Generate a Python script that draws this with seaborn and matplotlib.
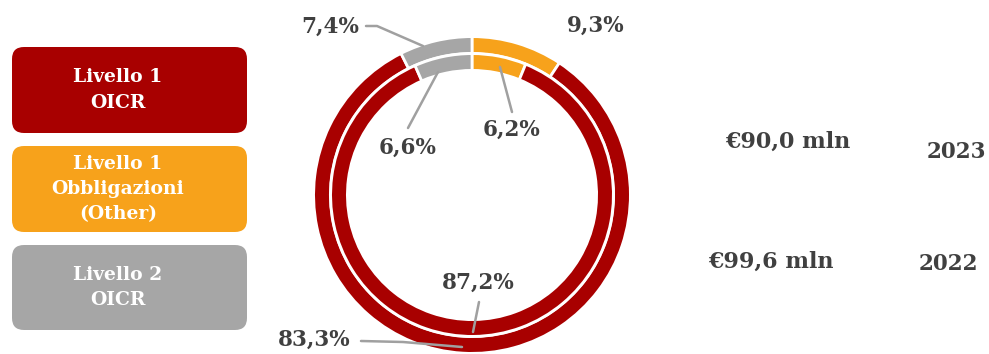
import matplotlib
matplotlib.use("Agg")
import matplotlib.pyplot as plt
import seaborn as sns
from matplotlib.patches import FancyBboxPatch

sns.set_theme(style="white")
plt.rcParams['font.family'] = ['DejaVu Serif']

# Data
categories = ["Livello 1\nObbligazioni\n(Other)", "Livello 1\nOICR", "Livello 2\nOICR"]
values_2022 = [9.3, 83.3, 7.4]   # outer ring
values_2023 = [6.2, 87.2, 6.6]   # inner ring
labels_2022 = ["9,3%", "83,3%", "7,4%"]
labels_2023 = ["6,2%", "87,2%", "6,6%"]
totals = ["€90,0 mln", "€99,6 mln"]
years = ["2023", "2022"]

palette = sns.color_palette(["#F7A21B", "#A80000", "#A6A6A6"])
txt = "#404040"
line_c = "#A0A0A0"

W, H = 989, 354
fig = plt.figure(figsize=(W / 100, H / 100), dpi=100)
ax = fig.add_axes([0, 0, 1, 1])

cx, cy = 472, 159
edge_lw = 2.0
half = edge_lw * 100 / 72 / 2
ax.pie(values_2022, colors=palette, radius=157 + half, center=(cx, cy), counterclock=False,
       startangle=90, wedgeprops=dict(width=14 + 2 * half, edgecolor="white", linewidth=edge_lw))
ax.pie(values_2023, colors=palette, radius=140 + half, center=(cx, cy), counterclock=False,
       startangle=90, wedgeprops=dict(width=14 + 2 * half, edgecolor="white", linewidth=edge_lw))

ax.set_xlim(0, W)
ax.set_ylim(0, H)
ax.set_aspect("equal")
ax.axis("off")

def Y(y):
    return H - y

# legend boxes
boxes = [(47, 133, palette[1], categories[1]),
         (146, 232, palette[0], categories[0]),
         (245, 330, palette[2], categories[2])]
for top, bot, col, lab in boxes:
    p = FancyBboxPatch((12 + 12, Y(bot) + 12), 235 - 24, (bot - top) - 24,
                       boxstyle="round,pad=12", facecolor=col, edgecolor="none")
    ax.add_patch(p)
    ax.text(118, Y((top + bot) / 2), lab, ha="center", va="center", color="white",
            fontsize=13.5, fontweight="bold", linespacing=1.5)

# percent labels
pct_fs = 15.5
ax.text(330, Y(27), labels_2022[2], ha="center", va="center", color=txt, fontsize=pct_fs, fontweight="bold")
ax.text(596, Y(26), labels_2022[0], ha="center", va="center", color=txt, fontsize=pct_fs, fontweight="bold")
ax.text(314, Y(340), labels_2022[1], ha="center", va="center", color=txt, fontsize=pct_fs, fontweight="bold")
ax.text(408, Y(148), labels_2023[2], ha="center", va="center", color=txt, fontsize=pct_fs, fontweight="bold")
ax.text(512, Y(130), labels_2023[0], ha="center", va="center", color=txt, fontsize=pct_fs, fontweight="bold")
ax.text(478, Y(283), labels_2023[1], ha="center", va="center", color=txt, fontsize=pct_fs, fontweight="bold")

# leader lines
lines = [
    [(366, 26), (377, 26), (423, 46)],
    [(408, 128), (438, 72)],
    [(512, 112), (500, 67)],
    [(479, 302), (473, 332)],
    [(361, 341), (403, 342), (462, 347)],
]
for pts in lines:
    xs = [p[0] for p in pts]
    ys = [Y(p[1]) for p in pts]
    ax.plot(xs, ys, color=line_c, lw=1.8, solid_capstyle="round")

# totals and years
ax.text(788, Y(142), totals[0], ha="center", va="center", color=txt, fontsize=16, fontweight="bold")
ax.text(956, Y(152), years[0], ha="center", va="center", color=txt, fontsize=15.5, fontweight="bold")
ax.text(771, Y(262), totals[1], ha="center", va="center", color=txt, fontsize=16, fontweight="bold")
ax.text(948, Y(264), years[1], ha="center", va="center", color=txt, fontsize=15.5, fontweight="bold")

fig.savefig("out.png", dpi=100)
